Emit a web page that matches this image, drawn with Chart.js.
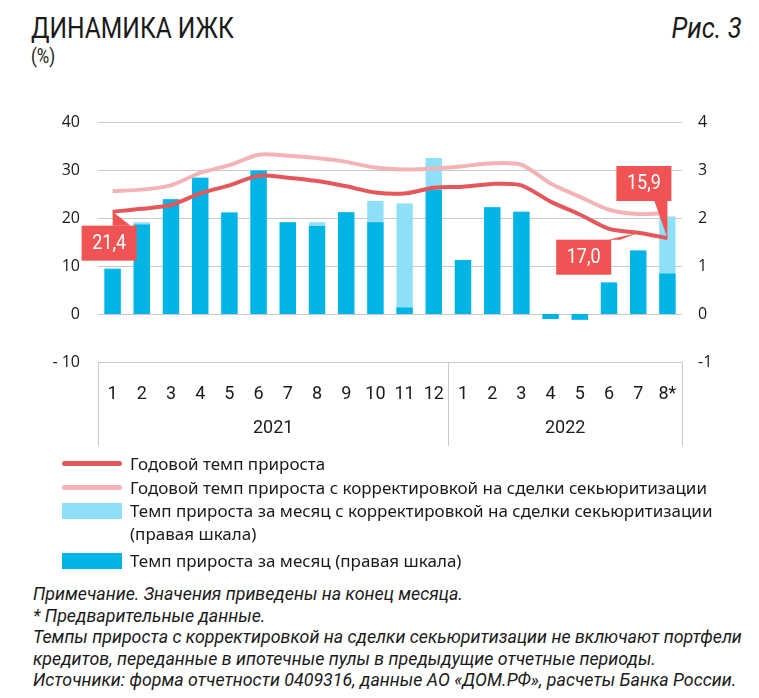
<!DOCTYPE html>
<html>
<head>
<meta charset="utf-8">
<script src="https://cdn.jsdelivr.net/npm/chart.js@4"></script>
<style>
  body { margin: 0; width: 759px; height: 698px; background: #fff; position: relative; overflow: hidden;
         font-family: Roboto, sans-serif; color: #1a1a1a; }
  .title { position: absolute; left: 31px; top: 10px; font-size: 30px; transform: scaleX(0.82); transform-origin: left top; white-space: nowrap; }
  .unit { position: absolute; left: 31px; top: 44px; font-size: 20px; transform: scaleX(0.85); transform-origin: left top; }
  .fig { position: absolute; right: 17px; top: 10px; font-size: 30px; font-style: italic; transform: scaleX(0.86); transform-origin: right top; }
  #wrap { position: absolute; left: 0; top: 95px; width: 759px; height: 360px; }
  #legend { position: absolute; left: 62px; top: 452px; font-family: "Noto Sans", sans-serif; font-size: 17px; }
  .item { position: absolute; left: 0; white-space: nowrap; }
  .swatch { position: absolute; left: 0; width: 60px; }
  .item span.txt { position: absolute; left: 68px; top: 0; line-height: 23px; }
  .notes { position: absolute; left: 33px; top: 583px; font-size: 19px; font-style: italic; line-height: 21.5px; white-space: nowrap; }
  .notes div { transform-origin: left top; width: max-content; }
</style>
</head>
<body>
<div class="title">ДИНАМИКА ИЖК</div>
<div class="unit">(%)</div>
<div class="fig">Рис. 3</div>
<div id="wrap"><canvas id="myChart"></canvas></div>
<div id="legend"></div>
<div class="notes">
<div>Примечание. Значения приведены на конец месяца.</div>
<div>* Предварительные данные.</div>
<div id="longNote">Темпы прироста с корректировкой на сделки секьюритизации не включают портфели</div>
<div>кредитов, переданные в ипотечные пулы в предыдущие отчетные периоды.</div>
<div>Источники: форма отчетности 0409316, данные АО «ДОМ.РФ», расчеты Банка России.</div>
</div>
<script>
const months = ["1","2","3","4","5","6","7","8","9","10","11","12","1","2","3","4","5","6","7","8*"];
const years = ["2021", "2022"];
const yearSpans = [12, 8];

const annualGrowth = [21.4, 22.0, 22.8, 25.2, 26.9, 28.9, 28.5, 27.8, 26.7, 25.4, 25.2, 26.4, 26.6, 27.2, 26.9, 23.5, 20.8, 17.8, 17.0, 15.9];
const annualGrowthAdj = [25.7, 26.0, 26.9, 29.5, 31.1, 33.3, 33.1, 32.6, 31.8, 30.6, 30.2, 30.4, 30.9, 31.5, 31.2, 27.3, 24.5, 21.8, 20.9, 21.1];
const monthlyGrowthAdj = [0.95, 1.92, 2.40, 2.85, 2.12, 3.0, 1.92, 1.92, 2.13, 2.36, 2.31, 3.26, 1.13, 2.23, 2.14, -0.10, -0.12, 0.66, 1.33, 2.04];
const monthlyGrowth = [0.95, 1.87, 2.40, 2.85, 2.12, 3.0, 1.92, 1.84, 2.13, 1.92, 0.14, 2.60, 1.13, 2.23, 2.14, -0.10, -0.12, 0.66, 1.33, 0.85];

const seriesNames = [
  "Годовой темп прироста",
  "Годовой темп прироста с корректировкой на сделки секьюритизации",
  "Темп прироста за месяц с корректировкой на сделки секьюритизации<br>(правая шкала)",
  "Темп прироста за месяц (правая шкала)"
];
const calloutIdx = [0, 18, 19];

const RED = "#e5575a";
const PINK = "#f4b4b5";
const BLUE = "#00b5e6";
const LIGHTBLUE = "#8ee0f8";
const BOX = "#f05354";
const GRID = "#c9c9c9";
const NARROW = "Roboto, sans-serif";

// footnotes squeezed so the long line matches the reference width
const k = 709 / document.getElementById("longNote").getBoundingClientRect().width;
document.querySelectorAll(".notes div").forEach(d => {
  d.style.transform = "scaleX(" + k.toFixed(3) + ")";
});

// legend
const legend = document.getElementById("legend");
const legendRows = [
  { top: 0, color: RED, h: 5, off: 9 },
  { top: 24, color: PINK, h: 5, off: 9 },
  { top: 47, color: LIGHTBLUE, h: 16, off: 4 },
  { top: 97, color: BLUE, h: 16, off: 4 }
];
legendRows.forEach((r, i) => {
  const d = document.createElement("div");
  d.className = "item";
  d.style.top = r.top + "px";
  d.innerHTML = '<div class="swatch" style="top:' + r.off + 'px;height:' + r.h + 'px;background:' + r.color + ';border-radius:' + (r.h < 8 ? 3 : 0) + 'px"></div><span class="txt">' + seriesNames[i] + '</span>';
  legend.appendChild(d);
});

const extras = {
  id: "extras",
  afterDraw(chart) {
    const { ctx, chartArea, scales } = chart;
    const x = scales.x;
    const yL = scales.y;
    ctx.save();
    // category box
    ctx.strokeStyle = GRID;
    ctx.lineWidth = 1;
    const b = chartArea.bottom;
    let idx = 0;
    const edges = [chartArea.left];
    yearSpans.forEach(n => {
      idx += n;
      edges.push(idx >= months.length ? chartArea.right : (x.getPixelForValue(idx - 1) + x.getPixelForValue(idx)) / 2);
    });
    edges.forEach(px => {
      ctx.beginPath();
      ctx.moveTo(Math.round(px) + 0.5, b);
      ctx.lineTo(Math.round(px) + 0.5, b + 84);
      ctx.stroke();
    });
    ctx.fillStyle = "#1a1a1a";
    ctx.font = "18px " + NARROW;
    ctx.textAlign = "center";
    ctx.textBaseline = "middle";
    years.forEach((yr, i) => ctx.fillText(yr, (edges[i] + edges[i + 1]) / 2, b + 66));

    // callouts
    const boxes = [
      { dx: -31, dy: 14, tri: [[0, 0], [0, 14], [18, 14]] },
      { dx: -82, dy: 7, tri: [[0, 0], [-30, 7], [-18, 7]] },
      { dx: -51, dy: -72, tri: [[0, 0], [-13, -37], [0, -37]] }
    ];
    ctx.font = "20px " + NARROW;
    calloutIdx.forEach((ci, j) => {
      const px = x.getPixelForValue(ci);
      const py = yL.getPixelForValue(annualGrowth[ci]);
      const bx = boxes[j];
      ctx.fillStyle = BOX;
      ctx.beginPath();
      ctx.moveTo(px + bx.tri[0][0], py + bx.tri[0][1]);
      ctx.lineTo(px + bx.tri[1][0], py + bx.tri[1][1]);
      ctx.lineTo(px + bx.tri[2][0], py + bx.tri[2][1]);
      ctx.closePath();
      ctx.fill();
      ctx.fillRect(px + bx.dx, py + bx.dy, 55, 35);
      ctx.fillStyle = "#fff";
      ctx.save();
      ctx.translate(px + bx.dx + 27.5, py + bx.dy + 18);
      ctx.scale(0.9, 1);
      ctx.fillText(annualGrowth[ci].toFixed(1).replace(".", ","), 0, 0);
      ctx.restore();
    });
    ctx.restore();
  }
};

const ctx = document.getElementById("myChart").getContext("2d");
const myChart = new Chart(ctx, {
  type: "bar",
  data: {
    labels: months,
    datasets: [
      { type: "line", label: "Годовой темп прироста с корректировкой", data: annualGrowthAdj, yAxisID: "y",
        borderColor: PINK, borderWidth: 4, pointRadius: 0, tension: 0.25, order: 1 },
      { type: "line", label: "Годовой темп прироста", data: annualGrowth, yAxisID: "y",
        borderColor: RED, borderWidth: 4, pointRadius: 0, tension: 0.25, order: 0 },
      { label: "Темп прироста за месяц", data: monthlyGrowth, yAxisID: "y1",
        backgroundColor: BLUE, order: 2, grouped: false, barPercentage: 0.56, categoryPercentage: 1 },
      { label: "Темп прироста за месяц с корректировкой", data: monthlyGrowthAdj, yAxisID: "y1",
        backgroundColor: LIGHTBLUE, order: 3, grouped: false, barPercentage: 0.56, categoryPercentage: 1 }
    ]
  },
  options: {
    responsive: true,
    maintainAspectRatio: false,
    animation: false,
    layout: { padding: { top: 25, left: 0, right: 0, bottom: 0 } },
    plugins: { legend: { display: false }, tooltip: { enabled: false } },
    scales: {
      x: {
        grid: { display: false },
        border: { display: false },
        ticks: { color: "#1a1a1a", padding: 14, maxRotation: 0, autoSkip: false,
                 font: { family: NARROW, size: 18 } },
        afterFit: s => { s.height = 93; }
      },
      y: {
        position: "left", min: -10, max: 40,
        ticks: { stepSize: 10, color: "#1a1a1a", padding: 18,
                 font: { family: '"Open Sans", sans-serif', size: 16 },
                 callback: v => v < 0 ? "- " + Math.abs(v) : v },
        grid: { color: GRID, drawTicks: false },
        border: { display: false },
        afterFit: s => { s.width = 98; }
      },
      y1: {
        position: "right", min: -1, max: 4,
        ticks: { stepSize: 1, color: "#1a1a1a", padding: 16,
                 font: { family: '"Open Sans", sans-serif', size: 16 } },
        grid: { display: false, drawTicks: false },
        border: { display: false },
        afterFit: s => { s.width = 77; }
      }
    }
  },
  plugins: [extras]
});
</script>
</body>
</html>
